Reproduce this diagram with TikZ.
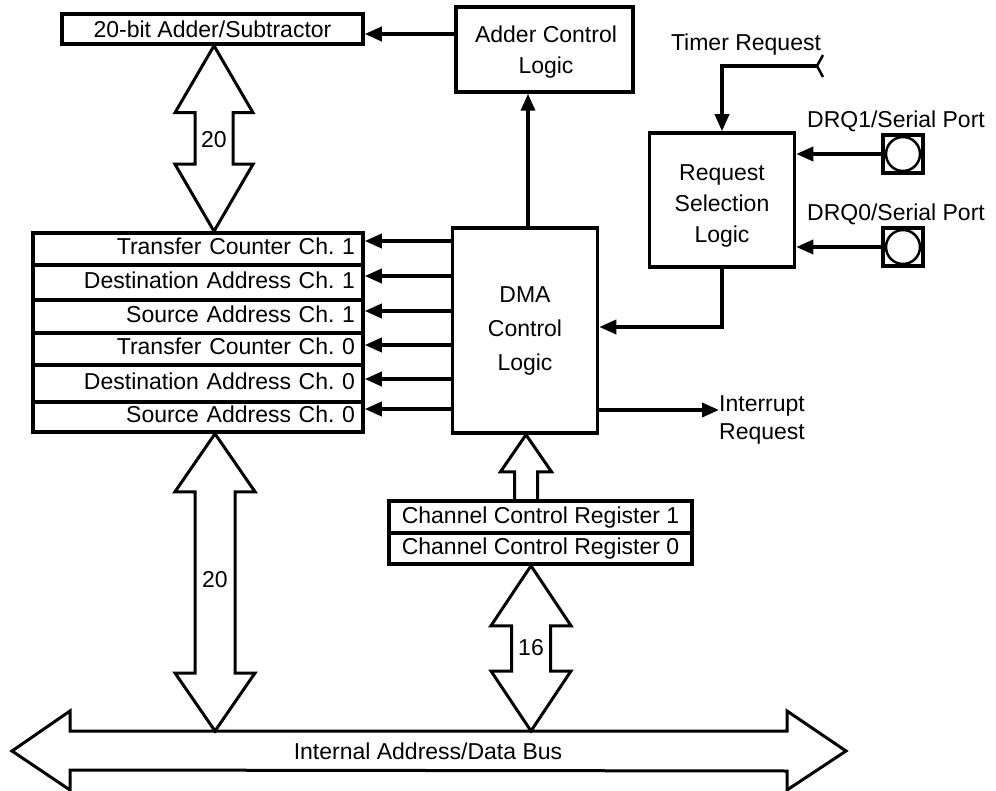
\documentclass[tikz,border=0pt]{standalone}
\usepackage{fontspec}
\setmainfont{Liberation Sans}
\usetikzlibrary{arrows.meta,calc}
\newcommand\vdblarrow[5]{% #1 top tip, #2 bottom tip, #3 head length, #4 head half width, #5 shaft half width
  \draw[hollow] (#1) -- ++(#4,#3) -- ++({#5-#4},0) -- ($(#2)+(#5,-#3)$) -- ++({#4-#5},0) -- (#2)
    -- ++(-#4,-#3) -- ++({#4-#5},0) -- ($(#1)+(-#5,#3)$) -- ++({#5-#4},0) -- cycle;}
\begin{document}
\frenchspacing
\begin{tikzpicture}[x=1pt,y=-1pt,
  font=\fontsize{23}{31}\selectfont,
  box/.style={draw,line width=3.5pt,inner sep=0pt,align=center},
  reg/.style={draw,line width=3.5pt,text width=314pt,inner xsep=8pt,inner ysep=0pt,
    align=right,minimum width=330pt,text height=16pt,text depth=4pt},
  ccr/.style={draw,line width=3.5pt,minimum width=303pt,inner sep=0pt,text height=16pt,text depth=4pt},
  pinbox/.style={draw,line width=3.5pt,minimum width=40pt,minimum height=38pt,inner sep=0pt},
  arr/.style={line width=3.5pt,-{Triangle[length=17pt,width=14pt]}},
  hollow/.style={line width=3pt,line join=miter},
  lbl/.style={inner sep=0pt}
]
\useasboundingbox (0,0) rectangle (996,791);

% boxes
\node[box,minimum width=301pt,minimum height=30pt] (adder) at (212.5,29) {20-bit Adder/Subtractor};
\node[box,minimum width=177pt,minimum height=85pt] (actl) at (544.5,49.5) {};
\node[lbl,align=center] (actltext) at (546,52) {Adder Control\\Logic};
\node[box,minimum width=145pt,minimum height=134pt] (req) at (722,200) {};
\node[lbl,align=center] (reqtext) at (722,206) {Request\\Selection\\Logic};
\node[box,minimum width=145pt,minimum height=205pt,font=\fontsize{23}{34}\selectfont] (dma) at (525,330.5) {DMA\\Control\\Logic};

% registers
\node[reg,minimum height=32pt] (tc1) at (198,249)   {Transfer Counter Ch. 1};
\node[reg,minimum height=35pt] (da1) at (198,282.5) {Destination Address Ch. 1};
\node[reg,minimum height=33pt] (sa1) at (198,316.5) {Source Address Ch. 1};
\node[reg,minimum height=32pt] (tc0) at (198,349)   {Transfer Counter Ch. 0};
\node[reg,minimum height=37pt] (da0) at (198,383.5) {Destination Address Ch. 0};
\node[reg,minimum height=30pt] (sa0) at (198,417)   {Source Address Ch. 0};

% channel control registers
\node[ccr,minimum height=32pt] (ccr1) at (540.5,517)   {Channel Control Register 1};
\node[ccr,minimum height=31pt] (ccr0) at (540.5,548.5) {Channel Control Register 0};

% pins
\node[pinbox] (drq1) at (903,154) {};
\draw[line width=2.5pt] (drq1.center) circle[radius=17pt];
\node[pinbox] (drq0) at (903,247) {};
\draw[line width=2.5pt] (drq0.center) circle[radius=17pt];
\node[lbl] (l1) at (896,121) {DRQ1/Serial Port};
\node[lbl] (l0) at (896,214) {DRQ0/Serial Port};

% timer request
\node[lbl] (tlbl) at (746,45) {Timer Request};
\coordinate (tfork) at (817,66);
\draw[line width=2.5pt] (tfork) -- ++(6,-11);
\draw[line width=2.5pt] (tfork) -- ++(6,11);
\draw[arr] (tfork) -- (req.north |- tfork) -- (req.north);

% interrupt
\node[lbl,anchor=west,align=left,font=\fontsize{23}{28}\selectfont] (intr) at (719,420) {Interrupt\\Request};
\draw[arr] (dma.east |- 0,410) -- (intr.west |- 0,410);

% connectors
\draw[arr] (drq1.west) -- (req.east |- drq1.west);
\draw[arr] (drq0.west) -- (req.east |- drq0.west);
\draw[arr] (req.south) |- (dma.east |- 0,327);
\draw[arr] (dma.north -| 528,0) -- (actl.south -| 528,0);
\draw[arr] (actl.west |- 0,34) -- (adder.east |- 0,34);
\draw[arr] (dma.west |- 0,241) -- (tc1.east |- 0,241);
\draw[arr] (dma.west |- 0,276) -- (da1.east |- 0,276);
\draw[arr] (dma.west |- 0,311) -- (sa1.east |- 0,311);
\draw[arr] (dma.west |- 0,345) -- (tc0.east |- 0,345);
\draw[arr] (dma.west |- 0,379) -- (da0.east |- 0,379);
\draw[arr] (dma.west |- 0,409) -- (sa0.east |- 0,409);

% bus
\coordinate (busL) at (12,751);
\coordinate (busR) at (846,751);
\draw[hollow] (busL) -- ++(58,-40) -- ++(0,20) -- ($(busR)+(-59,-20)$) -- ++(0,-20) -- (busR)
  -- ++(-59,39) -- ++(0,-19) -- ($(busL)+(58,19)$) -- ++(0,20) -- cycle;
\node[lbl] (bus) at (428,751) {Internal Address/Data Bus};
\coordinate (b20) at (215,731);
\coordinate (b16) at (531,731);

% hollow double arrows
\coordinate (u20t) at (214,0 |- adder.south);
\coordinate (u20b) at (214,0 |- tc1.north);
\vdblarrow{u20t}{u20b}{67}{39}{19}
\node[lbl] (n20a) at (214,140) {20};

\coordinate (l20t) at (215,0 |- sa0.south);
\vdblarrow{l20t}{b20}{58}{40}{20}
\node[lbl] (n20b) at (215,580) {20};

\coordinate (m16t) at (531,0 |- ccr0.south);
\vdblarrow{m16t}{b16}{60}{40}{19.5}
\node[lbl] (n16) at (531,648) {16};

% channel control up arrow
\coordinate (ccrt) at (526,0 |- dma.south);
\coordinate (ccrb) at (526,0 |- ccr1.north);
\draw[hollow] ($(ccrb)+(-11.5,0)$) -- ($(ccrt)+(-11.5,37)$) -- ++(-14,0) -- (ccrt)
  -- ++(25.5,37) -- ++(-14,0) -- ($(ccrb)+(11.5,0)$);
\end{tikzpicture}
\end{document}
